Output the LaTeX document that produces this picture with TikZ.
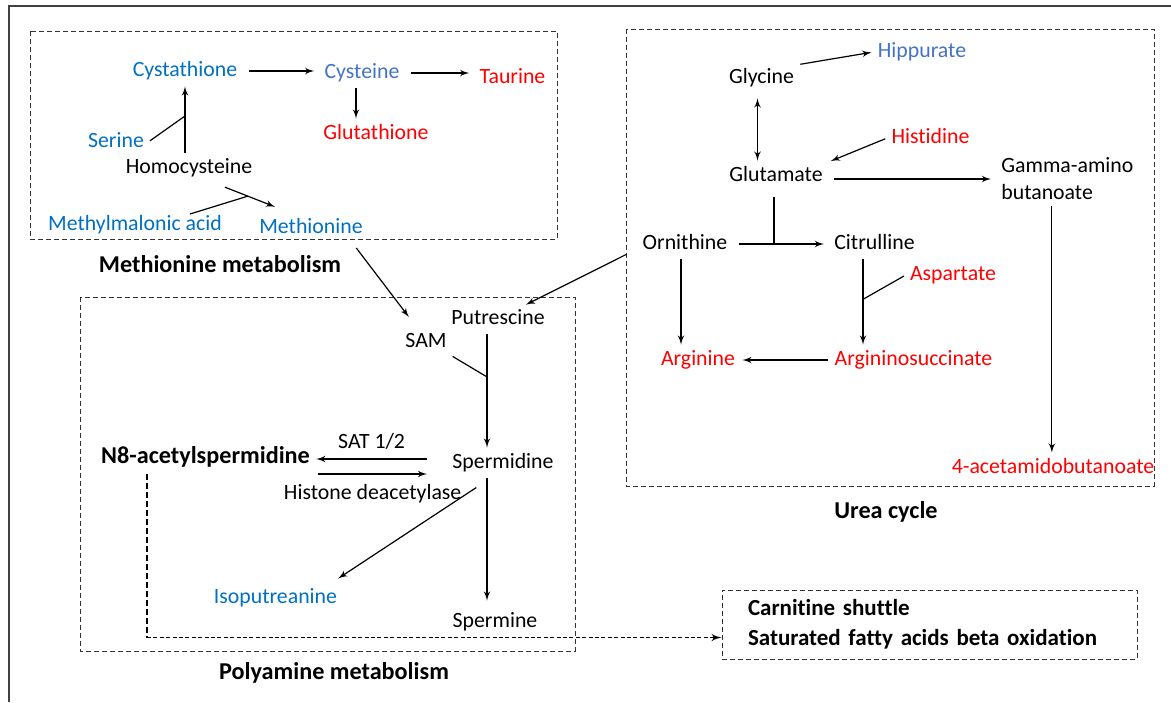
\documentclass[tikz,border=0pt]{standalone}
\usepackage{fontspec}
\setmainfont{Carlito}[Ligatures=NoCommon]
\usepackage{tikz}
\usetikzlibrary{arrows, shapes, positioning}
\definecolor{metblue}{RGB}{0,112,192}
\definecolor{cysblue}{RGB}{68,114,196}
\definecolor{metred}{RGB}{255,0,0}

\begin{document}
\begin{tikzpicture}
[x=0.5pt, y=-0.5pt, > = latex',
metbox/.style ={inner sep=2pt, font=\fontsize{10.9}{13.5}\selectfont},
met/.style ={metbox, anchor=base, text height=7pt, text depth=2pt},
upmet/.style ={met, text=metblue},
downmet/.style ={met, text=metred},
grptitle/.style ={met, font=\fontsize{12.1}{15}\selectfont\bfseries},
grpbox/.style ={draw=black!80, line width=0.5pt, dash pattern=on 2.5pt off 1.5pt},
carnbox/.style ={grpbox, align=left, text width=181.5pt, inner xsep=13pt,
inner ysep=0pt, minimum height=34.5pt, font=\fontsize{11.5}{15}\selectfont\bfseries},
rxn/.style ={->, line width=0.6pt, shorten >=1pt, shorten <=1pt},
hflow/.style ={rxn, shorten >=3pt, shorten <=3.5pt},
branch/.style ={line width=0.6pt, shorten <=1pt},
n8dash/.style ={line width=1.1pt, dash pattern=on 3pt off 1.5pt},
carndash/.style ={line width=0.75pt, dash pattern=on 2pt off 1.2pt},
]
\useasboundingbox (0,0) rectangle (1171,702);
\draw[black!75, line width=0.8pt] (9,702) |- (1171,6);

% groups
\draw[grpbox] (30,31) rectangle (557,239);
\draw[grpbox] (80,297) rectangle (575,651);
\draw[grpbox] (626,29) rectangle (1154,486);

% methionine metabolism
\node[upmet] (cysta) at (185,76) {Cystathione};
\node[met, text=cysblue] (cyste) at (362,78) {Cysteine};
\node[downmet] (taur) at (512.5,83) {Taurine};
\node[downmet] (gluta) at (376,139) {Glutathione};
\node[upmet] (ser) at (116,147) {Serine};
\node[met] (homo) at (189,173) {Homocysteine};
\node[upmet] (mma) at (135,230) {Methylmalonic acid};
\node[upmet] (methio) at (311,233) {Methionine};
\node[grptitle] (methlab) at (220,272) {Methionine metabolism};

\draw[hflow] (cysta.east) -- (cysta.east -| cyste.west);
\draw[hflow] (cyste.east) -- (cyste.east -| taur.west);
\coordinate (cys) at ([xshift=-3pt]cyste.south);
\draw[rxn] (cys) -- (cys |- gluta.north);
\draw[rxn] (homo.north -| cysta.south) -- coordinate[pos=0.55] (sj) (cysta.south);
\draw[branch] (ser.east) -- (sj);
\draw[rxn] ([shift={(34,5)}]homo.south) -- coordinate[pos=0.46] (mj) ([shift={(-34,-7)}]methio.north);
\draw[branch] ([shift={(53,3)}]mma.north) -- (mj);

% polyamine metabolism
\node[met] (putres) at (498,324) {Putrescine};
\node[met] (sam) at (426,347) {SAM};
\node[met] (spermid) at (503,468) {Spermidine};
\node[grptitle] (n8) at (205.5,463) {N8-acetylspermidine};
\node[upmet] (isop) at (275.5,603) {Isoputreanine};
\node[met] (spermin) at (495,627) {Spermine};
\node[grptitle] (polylab) at (334,679) {Polyamine metabolism};

\draw[rxn] ([shift={(-12,5)}]methio.south east) -- ([shift={(9,-10)}]sam.north west);
\coordinate (put) at ([xshift=-5.5pt]putres.south);
\draw[rxn] (put) -- coordinate[pos=0.38] (pj) (put |- spermid.north);
\draw[branch] (sam.south east) -- (pj);
\coordinate (satR) at ([shift={(-19,-4)}]spermid.west);
\draw[rxn] (satR) -- (satR -| n8.east) node[met, midway, above=1pt] (sat) {SAT 1/2};
\coordinate (hdL) at ([shift={(2,16)}]n8.east);
\draw[rxn] (hdL) -- (hdL -| satR) node[met, midway, below=3.5pt] (hdac) {Histone deacetylase};
\draw[rxn] ([shift={(-25,10)}]spermid.south) -- ([shift={(-5,-5)}]isop.north east);
\coordinate (spd) at ([xshift=-8pt]spermid.south);
\draw[rxn, shorten >=4pt] (spd) -- (spd |- spermin.north);

% urea cycle
\node[met] (glycine) at (761.5,83) {Glycine};
\node[met, text=cysblue] (hippur) at (922,57) {Hippurate};
\node[downmet] (histid) at (930.5,143) {Histidine};
\node[met] (glutam) at (776,181) {Glutamate};
\node[metbox, anchor=west, align=left] (gamma) at (997,179) {Gamma-amino\\butanoate};
\node[downmet] (acetam) at (1053,473) {4-acetamidobutanoate};
\node[met] (ornith) at (685,249) {Ornithine};
\node[met] (citrul) at (874.5,249) {Citrulline};
\node[downmet] (aspart) at (953,280) {Aspartate};
\node[downmet] (arginine) at (698,365) {Arginine};
\node[downmet] (argsucc) at (913.5,365) {Argininosuccinate};
\node[grptitle] (urealab) at (886,518) {Urea cycle};

\coordinate (gly) at ([xshift=-2pt]glycine.south);
\draw[rxn, <->, shorten <=3.5pt] (gly) -- (gly |- glutam.north);
\draw[rxn] (glycine.north east) -- (hippur.west);
\draw[rxn, shorten >=2pt] (histid.west) -- (glutam.north east);
\draw[hflow] (glutam.east |- gamma.west) -- (gamma.west);
\coordinate (gam) at ([xshift=-7.75pt]gamma.south);
\draw[rxn] (gam) -- (gam |- acetam.north);
\draw[hflow] (ornith.east) -- coordinate[pos=0.43] (oj) (citrul.west);
\draw[branch, shorten <=4pt] (oj |- glutam.south) -- (oj);
\coordinate (orn) at ([xshift=-2pt]ornith.south);
\draw[rxn] (orn) -- (orn |- arginine.north);
\coordinate (cit) at ([xshift=-5.75pt]citrul.south);
\draw[rxn] (cit) -- coordinate[pos=0.47] (cj) (cit |- argsucc.north);
\draw[branch] (aspart.west) -- (cj);
\draw[rxn, shorten >=1.5pt] (argsucc.west) -- (arginine.east);
\draw[rxn] ([shift={(-10,-4)}]ornith.south west) -- ([xshift=-12.5pt]putres.north east);

% fatty acids
\node[carnbox] (carn) at (929.5,624.5) {Carnitine shuttle\\Saturated fatty acids beta oxidation};
\coordinate (n8d) at ([shift={(-58.5,3)}]n8.south);
\coordinate (carnin) at ([yshift=-6.5pt]carn.west);
\draw[n8dash] (n8d) -- (n8d |- carnin) coordinate (n8turn);
\draw[->, carndash] (n8turn) -- (carnin);
\end{tikzpicture}
\end{document}
